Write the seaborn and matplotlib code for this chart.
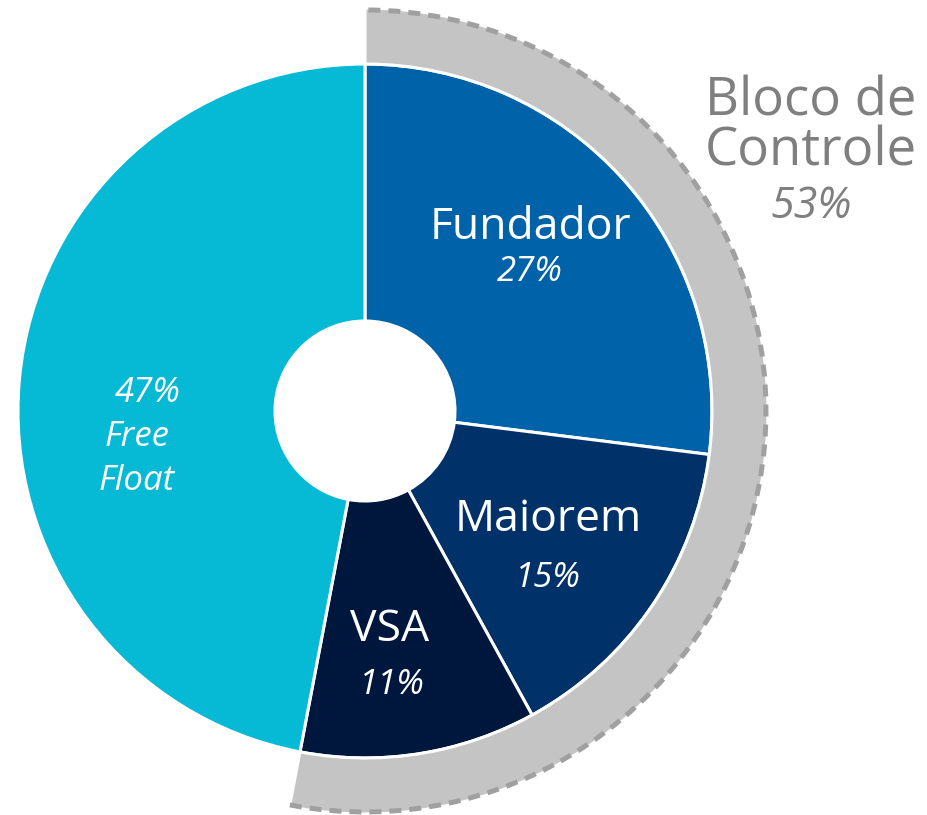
import numpy as np
import matplotlib
matplotlib.use("Agg")
import matplotlib.pyplot as plt
from matplotlib.patches import Arc
import seaborn as sns

# data
labels = ["Fundador", "Maiorem", "VSA", "Free Float"]
shares = [27, 15, 11, 47]
bloco_label = "Bloco de\nControle"
bloco_share = 53

colors = ["#0062A9", "#003269", "#00173D", "#06B9D4"]
grey = "#C4C4C4"

sns.set_theme(style="white")
plt.rcParams['font.family'] = ['Open Sans', 'DejaVu Sans']

W, H = 928, 815
fig = plt.figure(figsize=(W / 100, H / 100), dpi=100)
ax = fig.add_axes([0, 0, 1, 1])

def yy(y):
    # image row -> data y
    return H - y

cx, cy = 365, yy(411)
R = 347
r_hole = 90
R_out = 403

# main donut
ax.pie(shares, colors=colors, startangle=90, counterclock=False,
       center=(cx, cy), radius=R,
       wedgeprops=dict(width=R - r_hole, edgecolor="white", linewidth=2.2))

# control block ring
ax.pie([bloco_share, 100 - bloco_share], colors=[grey, "none"], startangle=90,
       counterclock=False, center=(cx, cy), radius=R_out,
       wedgeprops=dict(width=R_out - R, edgecolor="white", linewidth=2.2))
ax.patches[-1].set_edgecolor("none")

theta_end = 90
theta_start = 90 - 360 * bloco_share / 100
arc = Arc((cx, cy), 2 * (R_out - 2), 2 * (R_out - 2), theta1=theta_start,
          theta2=theta_end, color="#A0A0A0", lw=3.6, linestyle=(0, (2.4, 1.6)))
ax.add_patch(arc)

ax.set_xlim(0, W)
ax.set_ylim(0, H)
ax.set_aspect("equal")
ax.axis("off")

big = 32
small = 25
ax.text(530, yy(228), labels[0], color="white", fontsize=big, ha="center", va="center")
ax.text(530, yy(272), f"{shares[0]}%", color="white", fontsize=small, style="italic", ha="center", va="center")
ax.text(548, yy(520), labels[1], color="white", fontsize=big, ha="center", va="center")
ax.text(548, yy(578), f"{shares[1]}%", color="white", fontsize=small, style="italic", ha="center", va="center")
ax.text(390, yy(630), labels[2], color="white", fontsize=big, ha="center", va="center")
ax.text(392, yy(685), f"{shares[2]}%", color="white", fontsize=small, style="italic", ha="center", va="center")
ax.text(148, yy(393), f"{shares[3]}%", color="white", fontsize=small, style="italic", ha="center", va="center")
ff = labels[3].split()
ax.text(137, yy(437), ff[0], color="white", fontsize=small, style="italic", ha="center", va="center")
ax.text(137, yy(481), ff[1], color="white", fontsize=small, style="italic", ha="center", va="center")

gtxt = "#7F7F7F"
lines = bloco_label.split("\n")
ax.text(811, yy(102), lines[0], color=gtxt, fontsize=38, ha="center", va="center")
ax.text(811, yy(152), lines[1], color=gtxt, fontsize=38, ha="center", va="center")
ax.text(811, yy(207), f"{bloco_share}%", color=gtxt, fontsize=31, style="italic", ha="center", va="center")

fig.savefig("out.png", dpi=100)
